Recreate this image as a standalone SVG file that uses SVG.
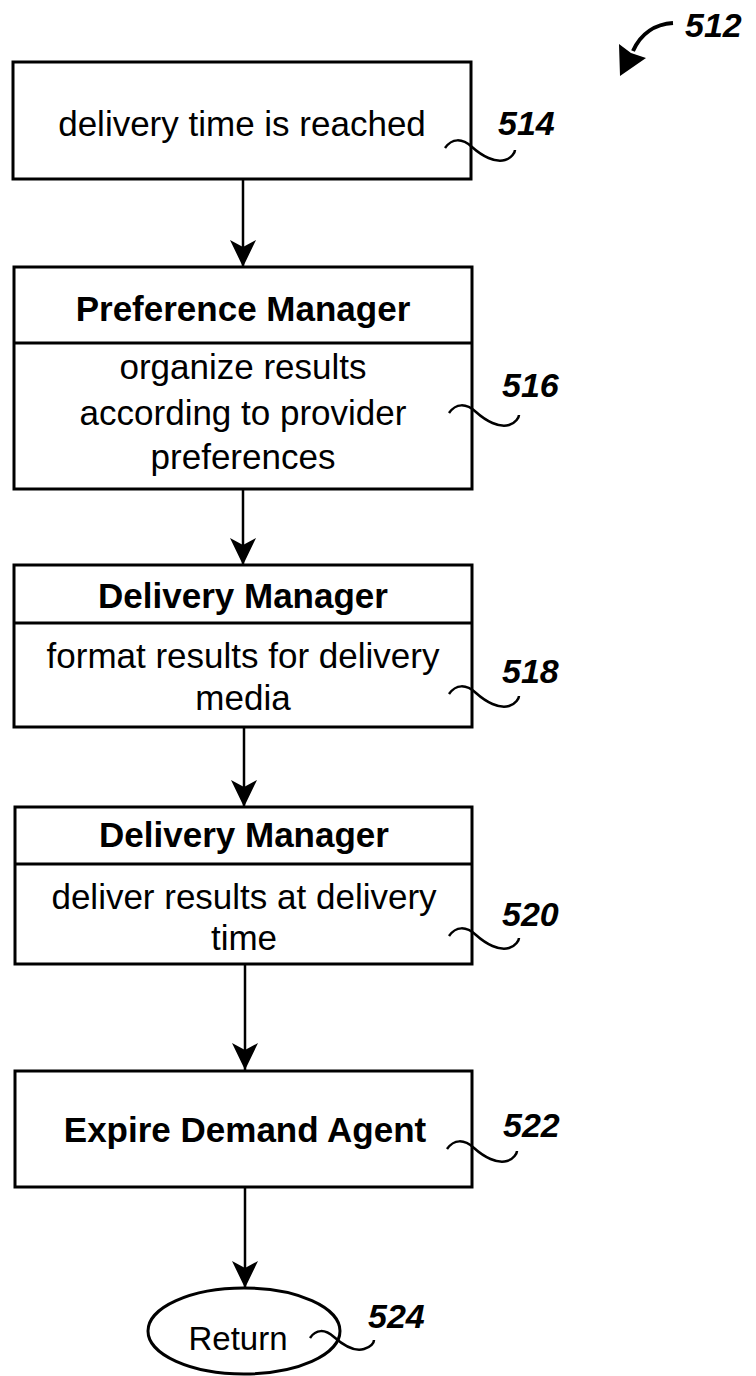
<svg xmlns="http://www.w3.org/2000/svg" width="756" height="1376" viewBox="0 0 756 1376">
<style>
.box{fill:#fff;stroke:#000;stroke-width:3}
.div{stroke:#000;stroke-width:3}
.t{font-family:"Liberation Sans",Arial,sans-serif;font-size:35px;fill:#000;text-anchor:middle}
.b{font-weight:bold}
.ref{font-family:"Liberation Sans",Arial,sans-serif;font-size:34px;font-weight:bold;font-style:italic;fill:#000}
.sq{fill:none;stroke:#000;stroke-width:2.5}
.con{fill:none;stroke:#000;stroke-width:2.5}
</style>
<defs>
<marker id="ah" markerUnits="userSpaceOnUse" markerWidth="30" markerHeight="30" viewBox="-28 -14 30 28" refX="0" refY="0" orient="auto">
<path d="M0,0 L-27,-13 L-20,0 L-27,13 Z" fill="#000"/>
</marker>
</defs>
<rect width="756" height="1376" fill="#fff"/>
<g id="label-512">
<path d="M673,23 C656,24 641,33 633,51" fill="none" stroke="#000" stroke-width="4"/>
<path d="M620,76 L619,44 L631,53 L646,58 Z" fill="#000"/>
<text class="ref" x="685" y="37">512</text>
</g>
<g id="connectors">
<line class="con" x1="243" y1="179" x2="243" y2="267" marker-end="url(#ah)"/>
<line class="con" x1="243" y1="489" x2="243" y2="565" marker-end="url(#ah)"/>
<line class="con" x1="244" y1="727" x2="244" y2="807" marker-end="url(#ah)"/>
<line class="con" x1="245" y1="964" x2="245" y2="1070" marker-end="url(#ah)"/>
<line class="con" x1="245" y1="1187" x2="245" y2="1288" marker-end="url(#ah)"/>
</g>
<g id="node-514">
<rect class="box" x="13" y="62" width="458" height="117"/>
<text class="t" x="242" y="136">delivery time is reached</text>
<path class="sq" d="M445,148 c7,-10 17,-10 27,-1 c10,9 23,16 33,13 c7,-2 10,-8 10,-10"/>
<text class="ref" x="498" y="135">514</text>
</g>
<g id="node-516">
<rect class="box" x="14" y="267" width="458" height="222"/>
<line class="div" x1="14" y1="343" x2="472" y2="343"/>
<text class="t b" x="243" y="321">Preference Manager</text>
<text class="t" x="243" y="379">organize results</text>
<text class="t" x="243" y="425">according to provider</text>
<text class="t" x="243" y="469">preferences</text>
<path class="sq" d="M449,413 c7,-10 17,-10 27,-1 c10,9 23,16 33,13 c7,-2 10,-8 10,-10"/>
<text class="ref" x="502" y="397">516</text>
</g>
<g id="node-518">
<rect class="box" x="14" y="565" width="458" height="162"/>
<line class="div" x1="14" y1="623" x2="472" y2="623"/>
<text class="t b" x="243" y="608">Delivery Manager</text>
<text class="t" x="243" y="668">format results for delivery</text>
<text class="t" x="243" y="710">media</text>
<path class="sq" d="M449,694 c7,-10 17,-10 27,-1 c10,9 23,16 33,13 c7,-2 10,-8 10,-10"/>
<text class="ref" x="502" y="683">518</text>
</g>
<g id="node-520">
<rect class="box" x="15" y="807" width="457" height="157"/>
<line class="div" x1="15" y1="864" x2="472" y2="864"/>
<text class="t b" x="244" y="847">Delivery Manager</text>
<text class="t" x="244" y="909">deliver results at delivery</text>
<text class="t" x="244" y="950">time</text>
<path class="sq" d="M449,936 c7,-10 17,-10 27,-1 c10,9 23,16 33,13 c7,-2 10,-8 10,-10"/>
<text class="ref" x="502" y="926">520</text>
</g>
<g id="node-522">
<rect class="box" x="15" y="1071" width="457" height="116"/>
<text class="t b" x="245" y="1142">Expire Demand Agent</text>
<path class="sq" d="M447,1149 c7,-10 17,-10 27,-1 c10,9 23,16 33,13 c7,-2 10,-8 10,-10"/>
<text class="ref" x="503" y="1137">522</text>
</g>
<g id="node-524">
<ellipse class="box" cx="244" cy="1331" rx="96" ry="43" stroke-width="2.5"/>
<text class="t" x="238" y="1350" style="font-size:33px">Return</text>
<path class="sq" d="M310,1338 c6,-9 15,-9 24,-1 c9,8 20,15 30,12 c7,-2 10,-6 10,-9"/>
<text class="ref" x="368" y="1328">524</text>
</g>
</svg>
